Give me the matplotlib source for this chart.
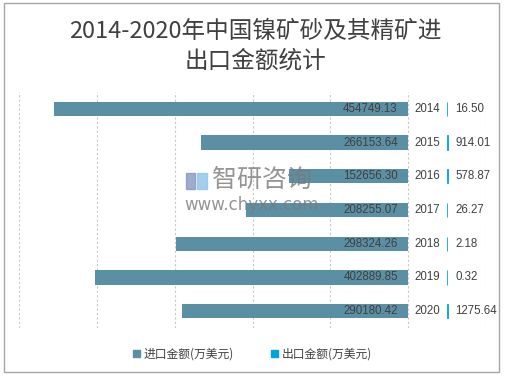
import numpy as np
import matplotlib
matplotlib.use('Agg')
import matplotlib.pyplot as plt
from matplotlib.patches import Patch, Rectangle

plt.rcParams['font.family'] = ['Noto Sans CJK SC', 'DejaVu Sans']

years = ['2014', '2015', '2016', '2017', '2018', '2019', '2020']
imports = [454749.13, 266153.64, 152656.30, 208255.07, 298324.26, 402889.85, 290180.42]
exports = [16.50, 914.01, 578.87, 26.27, 2.18, 0.32, 1275.64]
import_label = '进口金额(万美元)'
export_label = '出口金额(万美元)'
title = '2014-2020年中国镍矿砂及其精矿进\n出口金额统计'

c_imp = '#5B8FA4'
c_exp = '#00A3DC'
c_txt = '#404040'
gap = 50000  # room for the year labels between the two sides

fig = plt.figure(figsize=(5.05, 3.77), dpi=100)
fig.patch.set_facecolor('white')
fig.patches.append(Rectangle((4 / 505, 5 / 377), 495 / 505, 369 / 377,
                             transform=fig.transFigure, fill=False,
                             edgecolor='#A6A6A6', linewidth=1.0))

ax = fig.add_axes([19 / 505, 49 / 377, 467 / 505, 236 / 377])
y = np.arange(len(years))
ax.barh(y, [-v for v in imports], height=0.42, color=c_imp, zorder=2)
ax.barh(y, exports, left=gap, height=0.42, color=c_exp,
        edgecolor=c_exp, linewidth=0.6, zorder=2)

ax.set_xlim(-500000, 100000)
ax.set_ylim(len(years) - 0.5, -0.5)
ax.set_xticks(np.arange(-500000, 100001, 100000))
ax.grid(axis='x', color='#C8C8C8', linestyle=(0, (2, 2)), linewidth=0.8, zorder=0)
ax.tick_params(left=False, bottom=False, labelleft=False, labelbottom=False)
for s in ax.spines.values():
    s.set_visible(False)

lab_font = dict(family=['Liberation Sans', 'DejaVu Sans'], fontsize=8.3, color=c_txt)
for i in range(len(years)):
    ax.annotate(f'{imports[i]:.2f}', (0, y[i]), xytext=(-7.5, 0),
                textcoords='offset points', ha='right', va='center', **lab_font)
    ax.annotate(years[i], (0, y[i]), xytext=(4.3, 0),
                textcoords='offset points', ha='left', va='center', **lab_font)
    ax.annotate(f'{exports[i]:.2f}', (gap, y[i]), xytext=(5.8, 0),
                textcoords='offset points', ha='left', va='center', **lab_font)

fig.text(0.505, 1 - 46 / 377, title, ha='center', va='center', fontsize=17,
         color=c_txt, linespacing=1.35)

handles = [Patch(color=c_imp, label=import_label), Patch(color=c_exp, label=export_label)]
leg = fig.legend(handles=handles, loc='center', bbox_to_anchor=(0.50, 1 - 354 / 377),
                 ncol=2, frameon=False, fontsize=8.5, handlelength=0.55, handleheight=0.55,
                 handletextpad=0.3, columnspacing=3.2)
for t in leg.get_texts():
    t.set_color(c_txt)

# watermark
fig.patches.append(Rectangle((186 / 505, 1 - 189 / 377), 9 / 505, 16 / 377,
                             transform=fig.transFigure, color='#8796C4', alpha=0.8, zorder=5))
fig.patches.append(Rectangle((197 / 505, 1 - 189 / 377), 10 / 505, 16 / 377,
                             transform=fig.transFigure, color='#8CC4EA', alpha=0.8, zorder=5))
fig.text(212 / 505, 1 - 180 / 377, '智研咨询', fontsize=18, color='#7A7A7A', alpha=0.8,
         ha='left', va='center', zorder=5)
fig.text(184 / 505, 1 - 210 / 377, 'www.chyxx.com', fontsize=12, color='#7A7A7A', alpha=0.8,
         family='DejaVu Sans', ha='left', va='baseline', zorder=5)

fig.savefig('out.png', dpi=100)
